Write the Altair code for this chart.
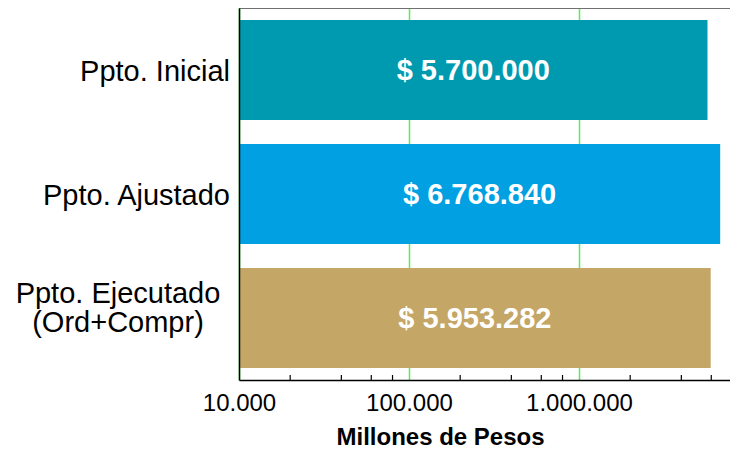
import altair as alt
import pandas as pd

categories = ["Ppto. Inicial", "Ppto. Ajustado", "Ppto. Ejecutado\n(Ord+Compr)"]
values = [5700000, 6768840, 5953282]
colors = ["#009AB0", "#00A0E2", "#C4A667"]
major_ticks = [10000, 100000, 1000000]
minor_ticks = [20000, 40000, 60000, 80000,
               200000, 400000, 600000, 800000,
               2000000, 4000000, 6000000, 8000000]

W_VIEW = 491      # visible svg width after the left padding
W, H = 498, 372   # plot extent (runs to the window edge)
FONT = "Liberation Sans"


def fmt(v):
    return "$ " + f"{v:,}".replace(",", ".")


df = pd.DataFrame({
    "cat": categories,
    "value": values,
    "label": [fmt(v) for v in values],
})
ticks_df = pd.DataFrame({"value": minor_ticks})

xscale = alt.Scale(type="log", domain=[10000, 8.5e6], nice=False, range=[0, W])
yscale = alt.Scale(domain=categories, paddingInner=0.1935, paddingOuter=0.0968)

xaxis = alt.Axis(
    values=major_ticks,
    labelExpr="replace(replace(format(datum.value, ','), ',', '.'), ',', '.')",
    grid=True, gridColor="#55EE55", gridWidth=1.5, gridOpacity=1,
    domainColor="black", domainWidth=1.5,
    ticks=False, labelPadding=11, labelFlush=False, labelOverlap=False,
    labelFont=FONT, labelFontSize=24, labelColor="black",
    title="Millones de Pesos", titleFont=FONT, titleFontSize=24,
    titleFontWeight="bold", titleColor="black", titlePadding=10,
    titleX=201, titleAlign="center", titleAnchor="start",
)

base = alt.Chart(df).transform_calculate(
    base="10000", mid="sqrt(10000*datum.value)"
)

bars = base.mark_bar().encode(
    y=alt.Y("cat:N", scale=yscale, sort=categories,
            axis=alt.Axis(labels=False, ticks=False, title=None, zindex=1,
                          domainColor="black", domainWidth=1.5)),
    x=alt.X("value:Q", scale=xscale, axis=xaxis),
    x2="base:Q",
    color=alt.Color("cat:N", scale=alt.Scale(domain=categories, range=colors),
                    legend=None),
)

bar_labels = base.mark_text(
    color="white", fontWeight="bold", fontSize=29, font=FONT,
    align="center", baseline="middle", dy=1,
).encode(
    y=alt.Y("cat:N", scale=yscale, sort=categories),
    x=alt.X("mid:Q", scale=xscale, title="Millones de Pesos"),
    text="label:N",
)

ylab_single = alt.Chart(df).transform_filter(
    "indexof(datum.cat, '\\n') < 0"
).mark_text(
    align="right", baseline="middle", fontSize=29, font=FONT, color="black", dy=2,
).encode(
    y=alt.Y("cat:N", scale=yscale, sort=categories),
    x=alt.value(-9),
    text="cat:N",
)

ylab_multi = alt.Chart(df).transform_filter(
    "indexof(datum.cat, '\\n') >= 0"
).mark_text(
    align="center", baseline="middle", fontSize=29, font=FONT, color="black",
    lineBreak="\n", lineHeight=29, dy=-24,
).encode(
    y=alt.Y("cat:N", scale=yscale, sort=categories),
    x=alt.value(-121),
    text="cat:N",
)

tick_marks = alt.Chart(ticks_df).mark_rule(color="black", strokeWidth=1.2).encode(
    x=alt.X("value:Q", scale=xscale, title="Millones de Pesos"),
    y=alt.value(H - 5),
    y2=alt.value(H),
)

top_line = alt.Chart(df).mark_rule(color="#707070", strokeWidth=2).encode(
    x=alt.value(0), x2=alt.value(W), y=alt.value(0)
)

chart = alt.layer(bars, bar_labels, tick_marks, ylab_single, ylab_multi, top_line).properties(
    width=W_VIEW, height=H,
    autosize=alt.AutoSizeParams(type="none"),
    padding={"left": 231, "top": 0, "right": 0, "bottom": 70},
).configure_view(stroke=None)

chart.save("out.html", embed_options={"renderer": "svg", "actions": False})
